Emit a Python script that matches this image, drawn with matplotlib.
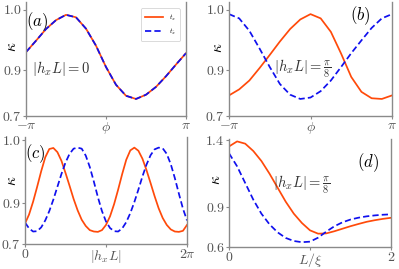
import matplotlib
matplotlib.use('Agg')
import matplotlib.pyplot as plt
import numpy as np

plt.rcParams['mathtext.fontset'] = 'cm'
plt.rcParams['font.family'] = 'serif'
plt.rcParams['font.serif'] = ['cmr10', 'DejaVu Serif']

# panel (a): phi in units of pi, both curves coincide
phi_a = [-1, -0.875, -0.75, -0.625, -0.5, -0.375, -0.25, -0.125, 0,
         0.125, 0.25, 0.375, 0.5, 0.625, 0.75, 0.875, 1]
kap_a = [0.880, 0.912, 0.945, 0.970, 0.985, 0.978, 0.946, 0.898, 0.838,
         0.788, 0.757, 0.748, 0.760, 0.782, 0.812, 0.845, 0.877]

# panel (b)
phi_b = phi_a
kap_b_x = [0.758, 0.775, 0.800, 0.835, 0.872, 0.910, 0.945, 0.972, 0.987,
           0.975, 0.937, 0.876, 0.810, 0.768, 0.750, 0.748, 0.758]
kap_b_xb = [0.987, 0.975, 0.940, 0.890, 0.838, 0.790, 0.760, 0.748, 0.752,
            0.770, 0.800, 0.838, 0.877, 0.913, 0.948, 0.975, 0.987]

# panel (c): |h_x L| in units of pi
hl_c = [0, 0.05, 0.1, 0.15, 0.2, 0.25, 0.3, 0.35, 0.4, 0.45, 0.5, 0.55, 0.6,
        0.65, 0.7, 0.75, 0.8, 0.85, 0.9, 0.95, 1.0, 1.05, 1.1, 1.15, 1.2,
        1.25, 1.3, 1.35, 1.4, 1.45, 1.5, 1.55, 1.6, 1.65, 1.7, 1.75, 1.8,
        1.85, 1.9, 1.95, 2.0]
kap_c_x = [0.759, 0.785, 0.822, 0.865, 0.910, 0.950, 0.974, 0.977, 0.965,
           0.940, 0.905, 0.868, 0.830, 0.797, 0.770, 0.752, 0.740, 0.736,
           0.735, 0.740, 0.755, 0.780, 0.815, 0.857, 0.902, 0.943, 0.970,
           0.978, 0.969, 0.946, 0.913, 0.876, 0.838, 0.803, 0.775, 0.755,
           0.742, 0.736, 0.735, 0.738, 0.755]
kap_c_xb = [0.762, 0.745, 0.736, 0.737, 0.748, 0.768, 0.795, 0.828, 0.865,
            0.902, 0.935, 0.960, 0.975, 0.978, 0.975, 0.955, 0.922, 0.880,
            0.835, 0.795, 0.765, 0.746, 0.737, 0.736, 0.745, 0.763, 0.789,
            0.821, 0.857, 0.895, 0.929, 0.956, 0.973, 0.978, 0.976, 0.960,
            0.930, 0.890, 0.845, 0.802, 0.768]

# panel (d): L / xi
lx_d = [0, 0.1, 0.2, 0.3, 0.4, 0.5, 0.6, 0.7, 0.8, 0.9, 1.0, 1.1, 1.2,
        1.3, 1.4, 1.5, 1.6, 1.7, 1.8, 1.9, 2.0]
kap_d_x = [1.354, 1.392, 1.375, 1.320, 1.245, 1.150, 1.045, 0.940, 0.850,
           0.780, 0.725, 0.700, 0.702, 0.718, 0.737, 0.756, 0.773, 0.789,
           0.801, 0.811, 0.819]
kap_d_xb = [1.303, 1.205, 1.080, 0.955, 0.850, 0.770, 0.710, 0.668, 0.645,
            0.636, 0.640, 0.670, 0.715, 0.755, 0.785, 0.806, 0.820, 0.830,
            0.837, 0.842, 0.845]

W, H = 399, 269
fig = plt.figure(figsize=(W / 100, H / 100), dpi=100)

def add_ax(l, r, t, b):
    return fig.add_axes([l / W, 1 - b / H, (r - l) / W, (b - t) / H])

orange = '#ff4a0a'
blue = '#1010ee'
dash = (0, (3.6, 1.8))
lw = 1.25

def style(ax, xt, xtl, yt, ytl, ylim, kx, ky):
    ax.set_ylim(*ylim)
    ax.set_xticks(xt)
    ax.set_xticklabels(xtl)
    ax.set_yticks(yt)
    ax.set_yticklabels(ytl)
    ax.spines['top'].set_visible(False)
    for s in ['left', 'bottom', 'right']:
        ax.spines[s].set_color('#8a8a8a')
        ax.spines[s].set_linewidth(1.0)
    ax.tick_params(length=2, width=0.8, color='#8a8a8a', labelsize=10,
                   labelcolor='#555555', pad=1)
    ax.set_ylabel(r'$\kappa$', fontsize=11, rotation=90, va='center',
                  ha='center')
    ax.yaxis.set_label_coords(kx, ky)

ylim_top = 0.7 + 0.3 * 114 / 106.5
ax1 = add_ax(26, 186, 2, 116)
ax1.plot(phi_a, kap_a, color=orange, lw=lw, label=r'$t_x$')
ax1.plot(phi_a, kap_a, color=blue, lw=lw, ls=dash, label=r'$t_{\bar{x}}$')
ax1.set_xlim(-1, 1)
style(ax1, [-1, 0, 1], [r'$-\pi$', r'$\phi$', r'$\pi$'],
      [0.7, 0.83, 1.0], [r'$0.7$', r'$0.9$', r'$1.0$'], (0.7, ylim_top),
      -0.085, 0.61)
ax1.text(0.0, 0.93, r'$(a)$', transform=ax1.transAxes, fontsize=12,
         va='top', ha='left')
ax1.text(0.04, 0.42, r'$|h_xL| = 0$', transform=ax1.transAxes, fontsize=10.5,
         va='center', ha='left', color='#333333')
leg = ax1.legend(loc='upper right', fontsize=5, handlelength=2.6,
                 borderaxespad=0.9, framealpha=1, borderpad=0.6,
                 labelspacing=0.6)
leg.get_frame().set_edgecolor('#cccccc')
leg.get_frame().set_linewidth(0.5)

ax2 = add_ax(229, 392, 2, 116)
ax2.plot(phi_b, kap_b_x, color=orange, lw=lw)
ax2.plot(phi_b, kap_b_xb, color=blue, lw=lw, ls=dash)
ax2.set_xlim(-1, 1)
style(ax2, [-1, 0, 1], [r'$-\pi$', r'$\phi$', r'$\pi$'],
      [0.7, 0.83, 1.0], [r'$0.7$', r'$0.9$', r'$1.0$'], (0.7, ylim_top),
      -0.067, 0.60)
ax2.text(0.74, 0.88, r'$(b)$', transform=ax2.transAxes, fontsize=12,
         va='center', ha='left')
ax2.text(0.45, 0.41, r'$|h_xL| = \frac{\pi}{8}$', transform=ax2.transAxes,
         fontsize=10.5, va='center', ha='center', color='#333333')

ax3 = add_ax(25, 187, 137, 244)
ax3.plot(hl_c, kap_c_x, color=orange, lw=lw)
ax3.plot(hl_c, kap_c_xb, color=blue, lw=lw, ls=dash)
ax3.set_xlim(0, 2)
ylim_c = 0.7 + 0.3 * 107 / 104
style(ax3, [0, 1, 2], [r'$0$', r'$|h_xL|$', r'$2\pi$'],
      [0.7, 0.818, 1.0], [r'$0.7$', r'$0.9$', r'$1.0$'], (0.7, ylim_c),
      -0.08, 0.59)
ax3.text(0.0, 0.84, r'$(c)$', transform=ax3.transAxes, fontsize=12,
         va='center', ha='left')

ax4 = add_ax(229, 391, 139, 247)
ax4.plot(lx_d, kap_d_x, color=orange, lw=lw)
ax4.plot(lx_d, kap_d_xb, color=blue, lw=lw, ls=dash)
ax4.set_xlim(0, 2)
style(ax4, [0, 1, 2], [r'$0$', r'$L/\xi$', r'$2$'],
      [0.6, 0.9, 1.4], [r'$0.6$', r'$0.9$', r'$1.4$'], (0.6, 1.41),
      -0.08, 0.62)
ax4.text(0.79, 0.78, r'$(d)$', transform=ax4.transAxes, fontsize=12,
         va='center', ha='left')
ax4.text(0.45, 0.58, r'$|h_xL| = \frac{\pi}{8}$', transform=ax4.transAxes,
         fontsize=10.5, va='center', ha='center', color='#333333')

fig.savefig('out.png', dpi=100)
